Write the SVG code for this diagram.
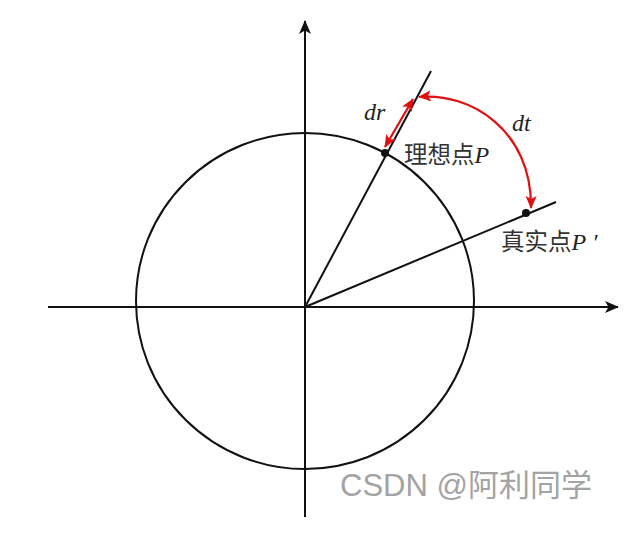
<svg xmlns="http://www.w3.org/2000/svg" width="641" height="536" viewBox="0 0 641 536">
<style>
.ax{stroke:#111;stroke-width:2;fill:none}
.ln{stroke:#111;stroke-width:2;fill:none}
.red{stroke:#e01010;stroke-width:2.2;fill:none}
.it{font-family:"Liberation Serif",serif;font-style:italic;font-size:24px;fill:#222}
.cj{font-family:"Liberation Serif","Noto Sans CJK SC",serif;font-size:23.5px;fill:#333}
.wm{font-family:"Liberation Sans","Noto Sans CJK SC",sans-serif;font-size:31px;fill:#a3a3a3}
</style>
<defs>
<marker id="ah" viewBox="0 0 14 12" refX="13" refY="6" markerWidth="14" markerHeight="12" markerUnits="userSpaceOnUse" orient="auto">
<path d="M0,0 L14,6 L0,12 L3.5,6 Z" fill="#111"/>
</marker>
<marker id="rh" viewBox="0 0 13 11" refX="12" refY="5.5" markerWidth="13" markerHeight="11" markerUnits="userSpaceOnUse" orient="auto-start-reverse">
<path d="M0,0 L13,5.5 L0,11 L3,5.5 Z" fill="#e01010"/>
</marker>
</defs>
<rect width="641" height="536" fill="#fff"/>
<g id="axes">
<line class="ax" x1="48" y1="307" x2="618" y2="307" marker-end="url(#ah)"/>
<line class="ax" x1="305" y1="517" x2="305" y2="21" marker-end="url(#ah)"/>
</g>
<g id="circle">
<ellipse cx="305" cy="301" rx="169" ry="168" class="ln"/>
</g>
<g id="connectors">
<line class="ln" x1="305" y1="307" x2="431" y2="71"/>
<line class="ln" x1="305" y1="307" x2="556" y2="202"/>
<line class="red" x1="413" y1="99" x2="385" y2="147" marker-start="url(#rh)" marker-end="url(#rh)"/>
<path class="red" d="M419,97 C470,92 532,130 531,208" marker-start="url(#rh)" marker-end="url(#rh)"/>
</g>
<g id="pointP">
<circle cx="385" cy="153" r="4" fill="#111"/>
<text class="cj" x="404" y="163">理想点<tspan class="it" font-size="26">P</tspan></text>
</g>
<g id="pointP2">
<circle cx="526" cy="213" r="4" fill="#111"/>
<text class="cj" x="501" y="250">真实点<tspan class="it" font-size="26">P</tspan><tspan class="it" dx="6">′</tspan></text>
</g>
<g id="labels">
<text class="it" x="364" y="120">dr</text>
<text class="it" x="512" y="131">dt</text>
</g>
<text class="wm" x="340" y="496">CSDN @阿利同学</text>
</svg>
